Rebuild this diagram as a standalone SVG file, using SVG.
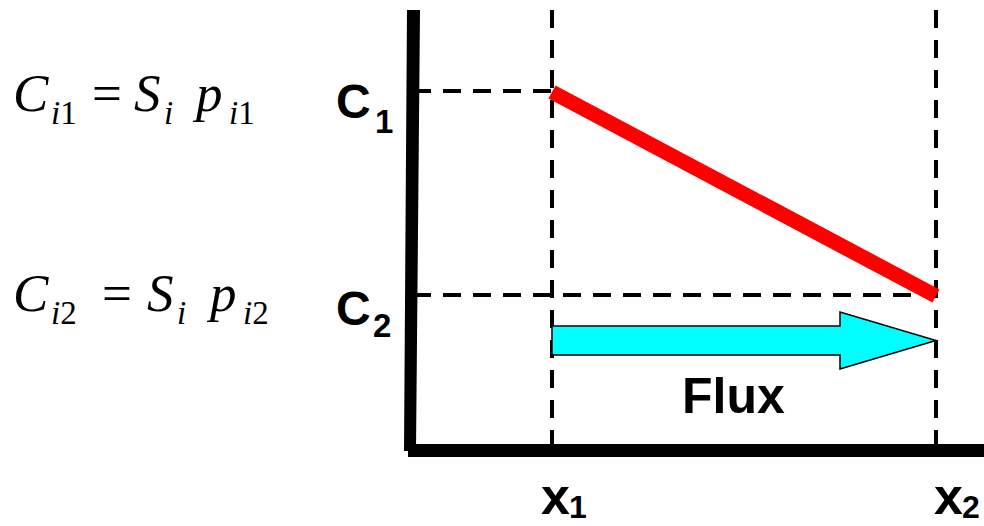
<svg xmlns="http://www.w3.org/2000/svg" width="984" height="526" viewBox="0 0 984 526">
<style>
.dash{stroke:#000;stroke-width:4;stroke-dasharray:18 12;fill:none}
.eq{font-family:"Liberation Serif","Times New Roman",serif;font-style:italic;font-size:53px;fill:#000}
.eqs{font-family:"Liberation Serif","Times New Roman",serif;font-size:33px;fill:#000}
.eqo{font-family:"Liberation Serif","Times New Roman",serif;font-size:53px;fill:#000}
.lab{font-family:"Liberation Sans",Arial,sans-serif;font-weight:bold;fill:#000}
</style>
<rect width="984" height="526" fill="#fff"/>
<g id="connectors">
<line class="dash" x1="552" y1="10" x2="552" y2="444"/>
<line class="dash" x1="936" y1="10" x2="936" y2="444"/>
<line class="dash" x1="413" y1="91" x2="552" y2="91"/>
<line class="dash" x1="413" y1="295" x2="936" y2="295"/>
</g>
<g id="axes">
<polygon points="407,10 420,10 416,451 404,451" fill="#000"/>
<rect x="408" y="444" width="576" height="13" fill="#000"/>
</g>
<g id="profile">
<line x1="552" y1="92" x2="936" y2="296" stroke="#f00" stroke-width="15"/>
</g>
<g id="flux-arrow">
<polygon points="552,326 840,326 840,312 936,340.5 840,369 840,355 552,355" fill="#0ff" stroke="#000" stroke-width="1.5"/>
<text class="lab" x="682" y="413" font-size="50">Flux</text>
</g>
<g id="eq1">
<text class="eq" x="13" y="111">C</text>
<text class="eqs" x="51" y="124"><tspan font-style="italic">i</tspan>1</text>
<text class="eqo" x="92" y="111">=</text>
<text class="eq" x="134" y="111">S</text>
<text class="eqs" x="164" y="124" font-style="italic">i</text>
<text class="eq" x="196" y="111">p</text>
<text class="eqs" x="229" y="124"><tspan font-style="italic">i</tspan>1</text>
</g>
<g id="eq2">
<text class="eq" x="13" y="311">C</text>
<text class="eqs" x="51" y="324"><tspan font-style="italic">i</tspan>2</text>
<text class="eqo" x="102" y="311">=</text>
<text class="eq" x="147" y="311">S</text>
<text class="eqs" x="177" y="324" font-style="italic">i</text>
<text class="eq" x="210" y="311">p</text>
<text class="eqs" x="243" y="324"><tspan font-style="italic">i</tspan>2</text>
</g>
<g id="c1">
<text class="lab" x="336" y="118" font-size="48">C</text>
<text class="lab" x="375" y="133" font-size="33">1</text>
</g>
<g id="c2">
<text class="lab" x="336" y="325" font-size="48">C</text>
<text class="lab" x="373" y="337" font-size="33">2</text>
</g>
<g id="x1">
<text class="lab" x="541" y="514" font-size="52">x</text>
<text class="lab" x="569" y="518" font-size="32">1</text>
</g>
<g id="x2">
<text class="lab" x="934" y="514" font-size="52">x</text>
<text class="lab" x="962" y="518" font-size="32">2</text>
</g>
</svg>
